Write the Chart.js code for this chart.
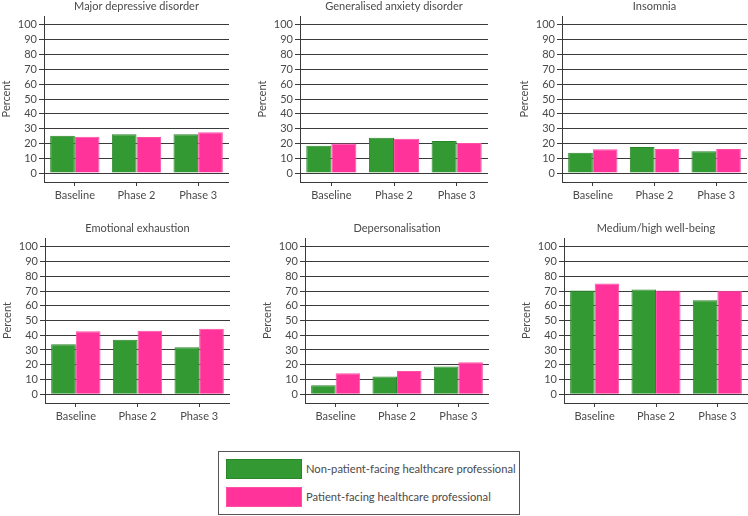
<!DOCTYPE html>
<html>
<head>
<meta charset="utf-8">
<script src="https://cdn.jsdelivr.net/npm/chart.js@4/dist/chart.umd.min.js"></script>
<style>
  body { margin: 0; background: #fff; }
  #wrap { position: relative; width: 748px; height: 516px; overflow: hidden; background: #fff; }
  #wrap canvas { position: absolute; }
  #legend { position: absolute; left: 218px; top: 451px; width: 302px; height: 64px; border: 1px solid #555; box-sizing: border-box; font: 11.2px Lato, sans-serif; color: #4a4a4a; }
  .item { position: absolute; left: 7px; height: 20px; }
  .sw { position: absolute; left: 0; top: 0; width: 76px; height: 20px; box-sizing: border-box; border: 1px solid; }
  .lbl { position: absolute; left: 80px; top: 0; line-height: 20px; white-space: nowrap; }
</style>
</head>
<body>
<div id="wrap">
  <div id="legend">
    <div class="item" style="top:7px"><div class="sw" id="sw0"></div><div class="lbl" id="lb0"></div></div>
    <div class="item" style="top:35px"><div class="sw" id="sw1"></div><div class="lbl" id="lb1"></div></div>
  </div>
</div>
<script>
// data
const categories = ['Baseline', 'Phase 2', 'Phase 3'];
const panelTitles = ['Major depressive disorder', 'Generalised anxiety disorder', 'Insomnia',
  'Emotional exhaustion', 'Depersonalisation', 'Medium/high well-being'];
const seriesLabels = ['Non-patient-facing healthcare professional', 'Patient-facing healthcare professional'];
const nonPatientFacing = [
  [25.2, 26.3, 26.3],
  [18.5, 23.9, 21.7],
  [13.8, 17.6, 14.8],
  [33.8, 36.9, 31.8],
  [6.0, 12.0, 18.7],
  [70.4, 71.1, 63.8]
];
const patientFacing = [
  [24.5, 24.3, 27.6],
  [19.9, 23.2, 20.3],
  [16.1, 16.3, 16.3],
  [42.7, 43.1, 44.4],
  [14.2, 15.8, 21.6],
  [75.1, 70.4, 70.2]
];
const yTicks = [0, 10, 20, 30, 40, 50, 60, 70, 80, 90, 100];

// layout: y-axis x position, right end, chart area top/bottom
const layout = [
  {ax: 44, right: 229, top: 16, bottom: 182},
  {ax: 300, right: 488, top: 16, bottom: 182},
  {ax: 562, right: 747, top: 16, bottom: 182},
  {ax: 45, right: 230, top: 238, bottom: 403},
  {ax: 305, right: 489, top: 238, bottom: 403},
  {ax: 564, right: 748, top: 238, bottom: 403}
];

const green = '#339933', greenEdge = '#2b862b';
const pink = '#ff3399', pinkEdge = '#ff4fa6';
const lineCol = '#3a3a3a';
const textCol = '#4a4a4a';
const FONT = 'Lato, sans-serif';
const Y_W = 44, X_H = 24, TOP_PAD = 16;

document.getElementById('sw0').style.cssText = 'background:' + green + ';border-color:' + greenEdge;
document.getElementById('sw1').style.cssText = 'background:' + pink + ';border-color:' + pinkEdge;
document.getElementById('lb0').textContent = seriesLabels[0];
document.getElementById('lb1').textContent = seriesLabels[1];

// panel title centred over the plot area
const panelTitle = {
  id: 'panelTitle',
  afterDraw(chart, args, opts) {
    const {ctx, chartArea} = chart;
    ctx.save();
    ctx.font = '11px ' + FONT;
    ctx.fillStyle = textCol;
    ctx.textAlign = 'center';
    ctx.textBaseline = 'middle';
    ctx.fillText(opts.text, (chartArea.left + chartArea.right) / 2, 6);
    ctx.restore();
  }
};

const wrap = document.getElementById('wrap');
layout.forEach((p, i) => {
  const c = document.createElement('canvas');
  const left = p.ax - Y_W;
  const top = p.top - TOP_PAD;
  const w = p.right - left;
  const h = p.bottom - top + X_H;
  c.style.left = left + 'px';
  c.style.top = top + 'px';
  c.style.width = w + 'px';
  c.style.height = h + 'px';
  c.width = w; c.height = h;
  wrap.appendChild(c);

  new Chart(c, {
    type: 'bar',
    data: {
      labels: categories,
      datasets: [
        {label: seriesLabels[0], data: nonPatientFacing[i], backgroundColor: green, borderColor: greenEdge, borderWidth: 1},
        {label: seriesLabels[1], data: patientFacing[i], backgroundColor: pink, borderColor: pinkEdge, borderWidth: 1}
      ]
    },
    options: {
      responsive: false,
      animation: false,
      layout: {padding: {top: TOP_PAD, left: 0, right: 0, bottom: 0}},
      datasets: {bar: {categoryPercentage: 0.8, barPercentage: 1.0}},
      plugins: {
        legend: {display: false},
        tooltip: {enabled: false},
        panelTitle: {text: panelTitles[i]}
      },
      scales: {
        x: {
          afterFit: s => { s.height = X_H; },
          grid: {display: true, drawOnChartArea: false, drawTicks: true, tickLength: 4, offset: false, color: lineCol},
          border: {display: true, color: lineCol, width: 1},
          ticks: {color: textCol, font: {family: FONT, size: 11}, padding: 3}
        },
        y: {
          min: -6,
          max: 106,
          afterFit: s => { s.width = Y_W; },
          afterBuildTicks: s => { s.ticks = yTicks.map(v => ({value: v})); },
          grid: {color: lineCol, tickLength: 5},
          border: {display: true, color: lineCol, width: 1},
          ticks: {color: textCol, font: {family: FONT, size: 11}, padding: 2},
          title: {display: true, text: 'Percent', color: textCol, font: {family: FONT, size: 11}, padding: 0}
        }
      }
    },
    plugins: [panelTitle]
  });
});
</script>
</body>
</html>
